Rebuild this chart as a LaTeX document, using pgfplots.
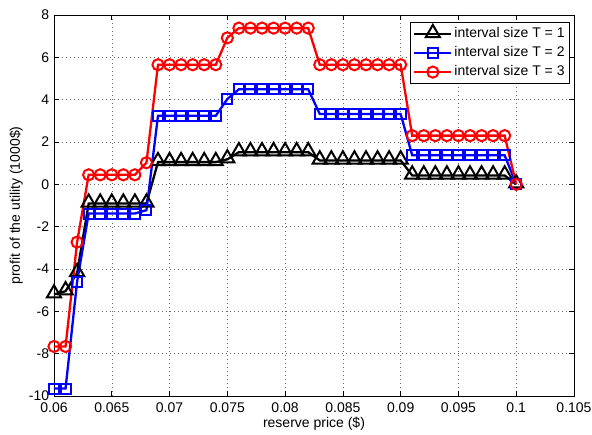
\documentclass[border=0pt]{standalone}
\usepackage{fontspec}
\setmainfont{Liberation Sans}
\usepackage{pgfplots}
\pgfplotsset{compat=1.18}
\begin{document}
\fontsize{14}{17}\selectfont
\begin{tikzpicture}
\begin{axis}[
  scale only axis, width=520pt, height=381pt,
  xmin=0.06, xmax=0.105, ymin=-10, ymax=8,
  xtick={0.06,0.065,0.07,0.075,0.08,0.085,0.09,0.095,0.1,0.105},
  xticklabels={0.06,0.065,0.07,0.075,0.08,0.085,0.09,0.095,0.1,0.105},
  ytick={-10,-8,-6,-4,-2,0,2,4,6,8},
  yticklabels={-10,-8,-6,-4,-2,0,2,4,6,8},
  grid=major,
  major grid style={black!60, line width=0.5pt, dash pattern=on 0.8pt off 3.2pt},
  axis line style={line width=0.9pt},
  tick style={black, line width=0.7pt}, major tick length=5pt, tick align=inside,
  xtick pos=both, ytick pos=both,
  xlabel={reserve price (\$)}, ylabel={profit of the utility (1000\$)},
  xlabel style={at={(axis description cs:0.5,-0.072)}, anchor=center},
  ylabel style={at={(axis description cs:-0.073,0.5)}, anchor=center},
  xticklabel style={yshift=-2pt},
  clip=false,
  legend style={at={(1,1)}, anchor=north east, xshift=-4pt, yshift=-7pt,
    draw=black, line width=0.8pt, inner xsep=3pt, inner ysep=2.5pt, row sep=2pt,
    nodes={inner sep=2pt, text height=10pt, text depth=3pt, anchor=west}},
  legend cell align=left,
  legend image code/.code={\draw[mark repeat=2,mark phase=2] plot coordinates {(0pt,0pt)(18.5pt,0pt)(37pt,0pt)};},
]
\addplot[black, line width=2.3pt, mark=triangle, mark size=8.2pt, mark options={solid, line width=2pt, yshift=1pt}] coordinates {
(0.060,-5.2)(0.061,-5.05)(0.062,-4.19)(0.063,-0.91)(0.064,-0.91)(0.065,-0.91)(0.066,-0.91)(0.067,-0.91)(0.068,-0.91)
(0.069,1.05)(0.070,1.05)(0.071,1.05)(0.072,1.05)(0.073,1.05)(0.074,1.05)(0.075,1.18)
(0.076,1.52)(0.077,1.52)(0.078,1.52)(0.079,1.52)(0.080,1.52)(0.081,1.52)(0.082,1.52)
(0.083,1.13)(0.084,1.13)(0.085,1.13)(0.086,1.13)(0.087,1.13)(0.088,1.13)(0.089,1.13)(0.090,1.13)
(0.091,0.42)(0.092,0.42)(0.093,0.42)(0.094,0.42)(0.095,0.42)(0.096,0.42)(0.097,0.42)(0.098,0.42)(0.099,0.42)(0.100,0)};
\addlegendentry{interval size T = 1}
\addplot[blue, line width=2.3pt, mark=square, mark size=5pt, mark options={solid, line width=2pt}] coordinates {
(0.060,-9.65)(0.061,-9.65)(0.062,-4.6)(0.063,-1.38)(0.064,-1.38)(0.065,-1.38)(0.066,-1.38)(0.067,-1.38)(0.068,-1.22)
(0.069,3.24)(0.070,3.24)(0.071,3.24)(0.072,3.24)(0.073,3.24)(0.074,3.24)(0.075,4.03)
(0.076,4.49)(0.077,4.49)(0.078,4.49)(0.079,4.49)(0.080,4.49)(0.081,4.49)(0.082,4.49)
(0.083,3.32)(0.084,3.32)(0.085,3.32)(0.086,3.32)(0.087,3.32)(0.088,3.32)(0.089,3.32)(0.090,3.32)
(0.091,1.37)(0.092,1.37)(0.093,1.37)(0.094,1.37)(0.095,1.37)(0.096,1.37)(0.097,1.37)(0.098,1.37)(0.099,1.37)(0.100,0)};
\addlegendentry{interval size T = 2}
\addplot[red, line width=2.3pt, mark=o, mark size=5.6pt, mark options={solid, line width=2pt}] coordinates {
(0.060,-7.66)(0.061,-7.66)(0.062,-2.73)(0.063,0.45)(0.064,0.45)(0.065,0.45)(0.066,0.45)(0.067,0.45)(0.068,1.02)
(0.069,5.65)(0.070,5.65)(0.071,5.65)(0.072,5.65)(0.073,5.65)(0.074,5.65)(0.075,6.92)
(0.076,7.38)(0.077,7.38)(0.078,7.38)(0.079,7.38)(0.080,7.38)(0.081,7.38)(0.082,7.38)
(0.083,5.65)(0.084,5.65)(0.085,5.65)(0.086,5.65)(0.087,5.65)(0.088,5.65)(0.089,5.65)(0.090,5.65)
(0.091,2.3)(0.092,2.3)(0.093,2.3)(0.094,2.3)(0.095,2.3)(0.096,2.3)(0.097,2.3)(0.098,2.3)(0.099,2.3)(0.100,0)};
\addlegendentry{interval size T = 3}
\end{axis}
\pgfresetboundingbox
\path (-54pt,-39pt) rectangle (538pt,396pt);
\end{tikzpicture}
\end{document}
